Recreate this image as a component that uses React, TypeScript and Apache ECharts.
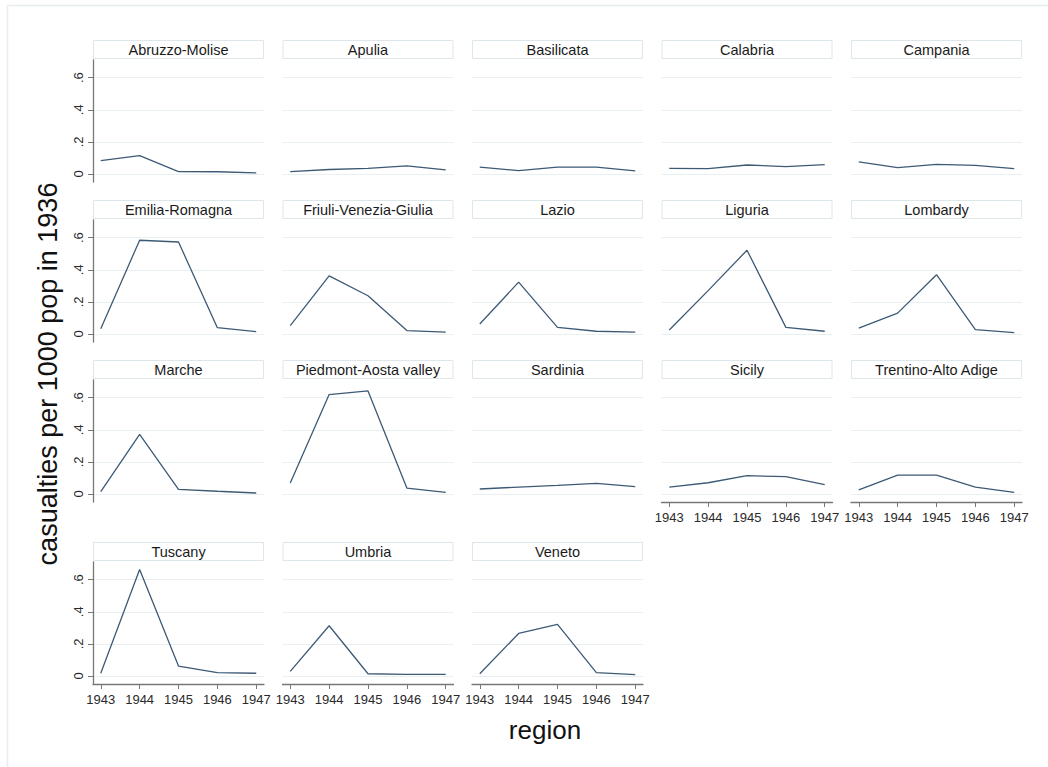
import { useEffect, useRef } from "react";
import * as echarts from "echarts";

const YEARS = [1943, 1944, 1945, 1946, 1947];
const Y_TICKS = [0, 0.2, 0.4, 0.6];
const Y_TICK_LABELS = ["0", ".2", ".4", ".6"];

const REGIONS = [
  "Abruzzo-Molise", "Apulia", "Basilicata", "Calabria", "Campania",
  "Emilia-Romagna", "Friuli-Venezia-Giulia", "Lazio", "Liguria", "Lombardy",
  "Marche", "Piedmont-Aosta valley", "Sardinia", "Sicily", "Trentino-Alto Adige",
  "Tuscany", "Umbria", "Veneto",
];

// casualties per 1000 pop, 1943..1947
const ABRUZZO_MOLISE = [0.083, 0.114, 0.015, 0.014, 0.007];
const APULIA = [0.015, 0.028, 0.035, 0.05, 0.025];
const BASILICATA = [0.043, 0.021, 0.043, 0.043, 0.019];
const CALABRIA = [0.035, 0.033, 0.056, 0.046, 0.058];
const CAMPANIA = [0.075, 0.039, 0.06, 0.054, 0.033];
const EMILIA_ROMAGNA = [0.033, 0.584, 0.573, 0.039, 0.014];
const FRIULI = [0.052, 0.362, 0.238, 0.021, 0.012];
const LAZIO = [0.062, 0.323, 0.041, 0.017, 0.012];
const LIGURIA = [0.025, 0.27, 0.522, 0.041, 0.017];
const LOMBARDY = [0.037, 0.13, 0.369, 0.027, 0.008];
const MARCHE = [0.014, 0.371, 0.029, 0.017, 0.006];
const PIEDMONT = [0.068, 0.619, 0.642, 0.037, 0.01];
const SARDINIA = [0.031, 0.043, 0.054, 0.066, 0.046];
const SICILY = [0.043, 0.07, 0.114, 0.108, 0.058];
const TRENTINO = [0.025, 0.118, 0.118, 0.043, 0.01];
const TUSCANY = [0.017, 0.663, 0.062, 0.021, 0.017];
const UMBRIA = [0.029, 0.313, 0.014, 0.01, 0.01];
const VENETO = [0.014, 0.265, 0.321, 0.021, 0.008];

const SERIES_VALUES = [
  ABRUZZO_MOLISE, APULIA, BASILICATA, CALABRIA, CAMPANIA,
  EMILIA_ROMAGNA, FRIULI, LAZIO, LIGURIA, LOMBARDY,
  MARCHE, PIEDMONT, SARDINIA, SICILY, TRENTINO,
  TUSCANY, UMBRIA, VENETO,
];

const FONT = "'Liberation Sans', Arial, sans-serif";
const LINE_COLOR = "#3d5a75";
const AXIS_COLOR = "#777777";
const GRID_COLOR = "#e9f0f2";
const STRIP_BORDER = "#dde6ea";

const COL_LEFT0 = 93;
const COL_STEP = 189.5;
const PLOT_W = 171;
const PLOT_H = 122;
const ROW_TOPS = [60, 220, 380, 562];

export default function App() {
  const chartRef = useRef<HTMLDivElement>(null);

  useEffect(() => {
    if (!chartRef.current) return;
    const chart = echarts.init(chartRef.current, null, { renderer: "svg" });

    const grids: any[] = [];
    const xAxes: any[] = [];
    const yAxes: any[] = [];
    const series: any[] = [];
    const graphics: any[] = [
      {
        type: "rect",
        shape: { x: 7.5, y: 5.5, width: 1100, height: 800 },
        style: { fill: "none", stroke: "#e6eef0", lineWidth: 1.5 },
        silent: true,
      },
    ];

    REGIONS.forEach((name, i) => {
      const row = Math.floor(i / 5);
      const col = i % 5;
      const left = COL_LEFT0 + col * COL_STEP;
      const top = ROW_TOPS[row];
      const isBottom = row === 3 || (row === 2 && col >= 3);
      const isLeft = col === 0;

      grids.push({ left, top, width: PLOT_W, height: PLOT_H });

      xAxes.push({
        type: "value",
        gridIndex: i,
        min: 1942.8,
        max: 1947.2,
        show: isBottom,
        axisLine: { show: true, onZero: false, lineStyle: { color: AXIS_COLOR, width: 1.3 } },
        axisTick: {
          show: true,
          length: 5,
          customValues: YEARS,
          lineStyle: { color: AXIS_COLOR },
        },
        axisLabel: {
          customValues: YEARS,
          formatter: (v: number) => String(v),
          color: "#2a2a2a",
          fontSize: 13,
          fontFamily: FONT,
          margin: 9,
        },
        splitLine: { show: false },
      });

      yAxes.push({
        type: "value",
        gridIndex: i,
        min: -0.05,
        max: 0.71,
        axisLine: { show: isLeft, onZero: false, lineStyle: { color: AXIS_COLOR, width: 1.3 } },
        axisTick: {
          show: isLeft,
          length: 5,
          customValues: Y_TICKS,
          lineStyle: { color: AXIS_COLOR },
        },
        axisLabel: {
          show: isLeft,
          customValues: Y_TICKS,
          rotate: 90,
          formatter: (v: number) => {
            const k = Y_TICKS.findIndex((t) => Math.abs(t - v) < 1e-9);
            return k >= 0 ? Y_TICK_LABELS[k] : "";
          },
          color: "#2a2a2a",
          fontSize: 13,
          fontFamily: FONT,
          margin: 8,
        },
        splitLine: { show: true, lineStyle: { color: GRID_COLOR, width: 1.2 } },
      });

      series.push({
        type: "line",
        name,
        xAxisIndex: i,
        yAxisIndex: i,
        data: YEARS.map((y, k) => [y, SERIES_VALUES[i][k]]),
        symbol: "none",
        lineStyle: { color: LINE_COLOR, width: 1.3 },
        z: 3,
      });

      graphics.push({
        type: "rect",
        shape: { x: left + 0.5, y: top - 19.5, width: PLOT_W - 1, height: 18 },
        style: { fill: "#ffffff", stroke: STRIP_BORDER, lineWidth: 1 },
        silent: true,
      });
      graphics.push({
        type: "text",
        x: left + PLOT_W / 2,
        y: top - 10.5,
        style: {
          text: name,
          fill: "#1a1a1a",
          fontSize: 14.5,
          fontFamily: FONT,
          align: "center",
          verticalAlign: "middle",
        },
        silent: true,
      });
    });

    graphics.push({
      type: "text",
      x: 48,
      y: 374,
      rotation: Math.PI / 2,
      style: {
        text: "casualties per 1000 pop in 1936",
        fill: "#111",
        fontSize: 27,
        fontFamily: FONT,
        align: "center",
        verticalAlign: "middle",
      },
      silent: true,
    });
    graphics.push({
      type: "text",
      x: 545,
      y: 730,
      style: {
        text: "region",
        fill: "#111",
        fontSize: 26,
        fontFamily: FONT,
        align: "center",
        verticalAlign: "middle",
      },
      silent: true,
    });

    chart.setOption({
      animation: false,
      backgroundColor: "#ffffff",
      grid: grids,
      xAxis: xAxes,
      yAxis: yAxes,
      series,
      graphic: graphics,
    });

    return () => {
      chart.dispose();
    };
  }, []);

  return (
    <div
      ref={chartRef}
      style={{ position: "absolute", left: 0, top: 0, width: 1048, height: 767 }}
    />
  );
}
